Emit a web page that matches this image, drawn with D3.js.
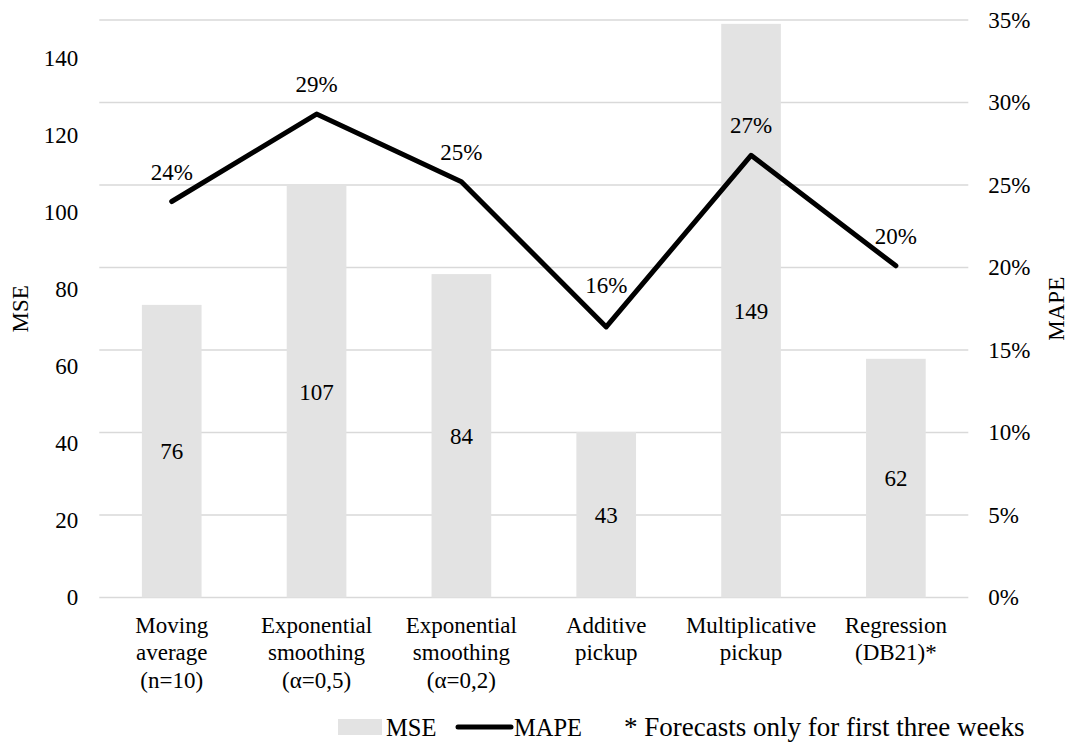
<!DOCTYPE html>
<html>
<head>
<meta charset="utf-8">
<script src="https://cdn.jsdelivr.net/npm/d3@7"></script>
<style>
  body { margin: 0; background: #fff; }
  svg, svg text { font-family: "Liberation Serif", Tinos, "Times New Roman", Times, "DejaVu Serif", serif !important; fill: #000; }
</style>
</head>
<body>
<svg id="chart" width="1072" height="744"></svg>
<script>
// Forecasting methods (each label split into its display lines)
const categories = [
  ["Moving", "average", "(n=10)"],
  ["Exponential", "smoothing", "(α=0,5)"],
  ["Exponential", "smoothing", "(α=0,2)"],
  ["Additive", "pickup"],
  ["Multiplicative", "pickup"],
  ["Regression", "(DB21)*"]
];
// Mean squared error per method (bars, left axis)
const mseValues = [76, 107, 84, 43, 149, 62];
// Mean absolute percentage error per method (line, right axis)
const mapeValues = [0.240, 0.293, 0.252, 0.164, 0.268, 0.201];
// Axis ticks
const mseTicks = [0, 20, 40, 60, 80, 100, 120, 140];
const mapeTicks = [0, 0.05, 0.10, 0.15, 0.20, 0.25, 0.30, 0.35];
const footnote = "* Forecasts only for first three weeks";

const FONT = 23;
const LEGEND_FONT = 24.5;
const NOTE_FONT = 27;
const SERIF = '"Liberation Serif", Tinos, "Times New Roman", Times, "DejaVu Serif", serif';
const svg = d3.select("#chart").attr("font-family", SERIF);
const plot = { left: 99.3, right: 968.3, top: 20, bottom: 597.5 };

const idx = d3.range(categories.length);
const x = d3.scaleBand().domain(idx).range([plot.left, plot.right])
  .paddingInner(0.588).paddingOuter(0.294);
const yL = d3.scaleLinear().domain([0, 150]).range([plot.bottom, plot.top]);
const yR = d3.scaleLinear().domain([0, 0.35]).range([plot.bottom, plot.top]);
const cx = i => x(i) + x.bandwidth() / 2;

// Horizontal gridlines (aligned with the percentage axis)
svg.append("g").selectAll("line").data(mapeTicks).join("line")
  .attr("x1", plot.left).attr("x2", plot.right)
  .attr("y1", d => yR(d)).attr("y2", d => yR(d))
  .attr("stroke", "#d9d9d9").attr("stroke-width", 1.6);

// MSE bars
svg.append("g").selectAll("rect").data(mseValues).join("rect")
  .attr("x", (d, i) => x(i)).attr("width", x.bandwidth())
  .attr("y", d => yL(d)).attr("height", d => yL(0) - yL(d))
  .attr("fill", "#e3e3e3");

// MSE labels, centred in each bar
svg.append("g").selectAll("text").data(mseValues).join("text")
  .attr("x", (d, i) => cx(i)).attr("y", d => (yL(d) + yL(0)) / 2)
  .attr("dy", "0.35em").attr("text-anchor", "middle")
  .style("font-size", FONT + "px").text(d => d);

// MAPE line
const line = d3.line().x((d, i) => cx(i)).y(d => yR(d));
svg.append("path").datum(mapeValues)
  .attr("d", line).attr("fill", "none").attr("stroke", "#000")
  .attr("stroke-width", 5).attr("stroke-linejoin", "round").attr("stroke-linecap", "round");

// MAPE labels above each point; lifted further at a valley so the text clears the line
const isValley = i => i > 0 && i < mapeValues.length - 1 &&
  mapeValues[i] < mapeValues[i - 1] && mapeValues[i] < mapeValues[i + 1];
svg.append("g").selectAll("text").data(mapeValues).join("text")
  .attr("x", (d, i) => cx(i)).attr("y", (d, i) => yR(d) - (isValley(i) ? 34 : 22))
  .attr("text-anchor", "middle").style("font-size", FONT + "px")
  .text(d => d3.format(".0%")(d));

// Left axis (MSE)
const axL = svg.append("g").attr("transform", `translate(${plot.left},0)`)
  .call(d3.axisLeft(yL).tickValues(mseTicks).tickSize(0).tickPadding(21));
axL.attr("font-family", SERIF).select(".domain").remove();
axL.selectAll("text").style("font-size", FONT + "px");

// Right axis (MAPE)
const axR = svg.append("g").attr("transform", `translate(${plot.right},0)`)
  .call(d3.axisRight(yR).tickValues(mapeTicks).tickSize(0).tickPadding(20).tickFormat(d3.format(".0%")));
axR.attr("font-family", SERIF).select(".domain").remove();
axR.selectAll("text").style("font-size", FONT + "px");

// Category labels, multi-line
const axB = svg.append("g").attr("transform", `translate(0,${plot.bottom})`)
  .call(d3.axisBottom(x).tickSize(0).tickFormat(() => ""));
axB.attr("font-family", SERIF).select(".domain").remove();
axB.selectAll(".tick text").each(function (i) {
  const t = d3.select(this).attr("y", 0).attr("dy", null).style("font-size", FONT + "px");
  categories[i].forEach((ln, k) => {
    t.append("tspan").attr("x", 0).attr("y", 35 + k * 27.5).text(ln);
  });
});

// Axis titles
svg.append("text").attr("transform", `translate(28,${(plot.top + plot.bottom) / 2}) rotate(-90)`)
  .attr("text-anchor", "middle").style("font-size", FONT + "px").text("MSE");
svg.append("text").attr("transform", `translate(1064,${(plot.top + plot.bottom) / 2}) rotate(-90)`)
  .attr("text-anchor", "middle").style("font-size", FONT + "px").text("MAPE");

// Legend and footnote
const lg = svg.append("g").attr("transform", "translate(0,736)");
lg.append("rect").attr("x", 338).attr("y", -17).attr("width", 44).attr("height", 16).attr("fill", "#e3e3e3");
lg.append("text").attr("x", 386).attr("y", 0).style("font-size", LEGEND_FONT + "px").text("MSE");
lg.append("line").attr("x1", 458).attr("x2", 511).attr("y1", -9).attr("y2", -9)
  .attr("stroke", "#000").attr("stroke-width", 5).attr("stroke-linecap", "round");
lg.append("text").attr("x", 514).attr("y", 0).style("font-size", LEGEND_FONT + "px").text("MAPE");
lg.append("text").attr("x", 624).attr("y", 0).style("font-size", NOTE_FONT + "px").text(footnote);
</script>
</body>
</html>
